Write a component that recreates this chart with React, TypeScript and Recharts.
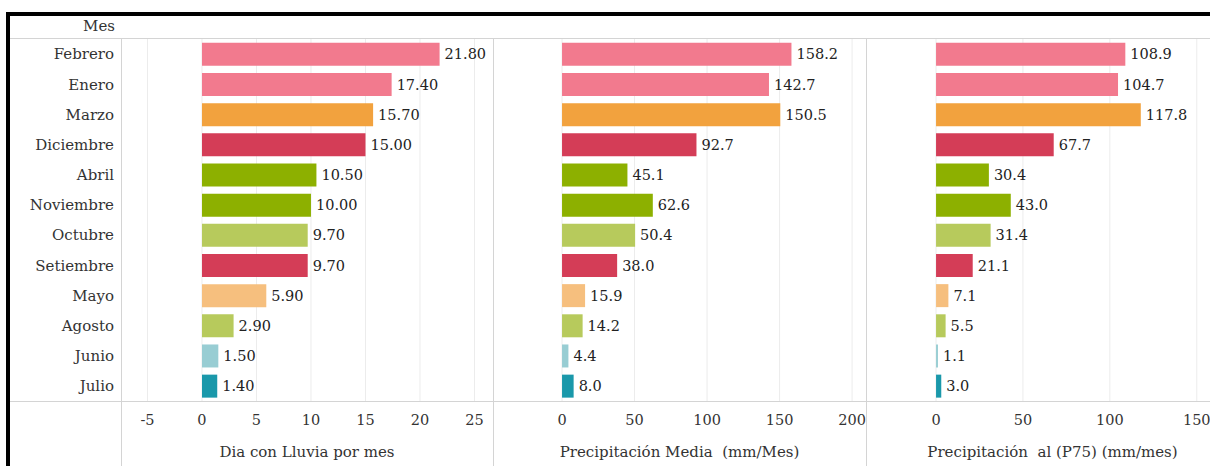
import React from "react";
import { BarChart, Bar, XAxis, YAxis, CartesianGrid, Cell, LabelList } from "recharts";

const months = ["Febrero", "Enero", "Marzo", "Diciembre", "Abril", "Noviembre", "Octubre", "Setiembre", "Mayo", "Agosto", "Junio", "Julio"];
const diasLluvia = [21.8, 17.4, 15.7, 15.0, 10.5, 10.0, 9.7, 9.7, 5.9, 2.9, 1.5, 1.4];
const precMedia = [158.2, 142.7, 150.5, 92.7, 45.1, 62.6, 50.4, 38.0, 15.9, 14.2, 4.4, 8.0];
const precP75 = [108.9, 104.7, 117.8, 67.7, 30.4, 43.0, 31.4, 21.1, 7.1, 5.5, 1.1, 3.0];
const monthColors = ["#F27A8E", "#F27A8E", "#F2A23E", "#D43D57", "#8DB000", "#8DB000", "#B7CA5C", "#D43D57", "#F6BF7E", "#B7CA5C", "#98CDD3", "#1A98AA"];

const ticks1 = [-5, 0, 5, 10, 15, 20, 25];
const ticks2 = [0, 50, 100, 150, 200];
const ticks3 = [0, 50, 100, 150];

const title1 = "Dia con Lluvia por mes";
const title2 = "Precipitación Media\u00A0 (mm/Mes)";
const title3 = "Precipitación\u00A0 al (P75) (mm/mes)";

const data = months.map((m, i) => ({
  mes: m,
  dias: diasLluvia[i],
  media: precMedia[i],
  p75: precP75[i],
  color: monthColors[i],
}));

const FONT = "'DejaVu Serif', serif";
const TXT = "#333";
const LINE = "#d4d4d4";

type PanelProps = {
  dataKey: string;
  domain: [number, number];
  ticks: number[];
  title: string;
  decimals: number;
  left: number;
  width: number;
  showLabels?: boolean;
};

function Panel({ dataKey, domain, ticks, title, decimals, left, width, showLabels }: PanelProps) {
  const yw = showLabels ? 111 : 0;
  return (
    <div style={{ position: "absolute", left, top: 39 }}>
      <BarChart
        width={width + yw}
        height={427}
        data={data}
        layout="vertical"
        margin={{ top: 0, right: 0, bottom: 0, left: 0 }}
        barCategoryGap={3.8}
      >
        <CartesianGrid horizontal={false} vertical={true} stroke="#ececec" verticalValues={ticks} />
        <XAxis
          type="number"
          domain={domain}
          ticks={ticks}
          allowDataOverflow
          axisLine={false}
          tickLine={false}
          tickMargin={8}
          height={65}
          tick={{ fill: TXT, fontSize: 14.5, fontFamily: FONT }}
          label={{ value: title, position: "insideBottom", offset: 9, fill: TXT, fontSize: 15, fontFamily: FONT }}
        />
        <YAxis
          type="category"
          dataKey="mes"
          width={yw}
          hide={!showLabels}
          axisLine={false}
          tickLine={false}
          tickMargin={1}
          interval={0}
          tick={{ fill: TXT, fontSize: 15, fontFamily: FONT }}
        />
        <Bar dataKey={dataKey} isAnimationActive={false}>
          {data.map((d, i) => (
            <Cell key={i} fill={d.color} />
          ))}
          <LabelList
            dataKey={dataKey}
            position="right"
            offset={5}
            formatter={(v: any) => Number(v).toFixed(decimals)}
            style={{ fill: "#222", fontSize: 14.5, fontFamily: FONT }}
          />
        </Bar>
      </BarChart>
    </div>
  );
}

export default function App() {
  return (
    <div style={{ position: "fixed", left: 0, top: 0, width: 1210, height: 466, overflow: "hidden", background: "#fff", fontFamily: FONT }}>
      <div style={{ position: "absolute", left: 6, top: 12, width: 1300, height: 500, borderTop: "4px solid #000", borderLeft: "4px solid #000", boxSizing: "border-box" }} />
      <div style={{ position: "absolute", left: 10, top: 17, width: 105, textAlign: "right", fontSize: 15, color: TXT }}>Mes</div>
      <div style={{ position: "absolute", left: 10, top: 38, width: 1300, height: 1, background: LINE }} />
      <div style={{ position: "absolute", left: 10, top: 401, width: 1300, height: 1, background: LINE }} />
      <Panel dataKey="dias" domain={[-7.43, 26.7]} ticks={ticks1} title={title1} decimals={2} left={10} width={372} showLabels />
      <Panel dataKey="media" domain={[-47.6, 209.6]} ticks={ticks2} title={title2} decimals={1} left={493} width={373} />
      <Panel dataKey="p75" domain={[-40.3, 174.3]} ticks={ticks3} title={title3} decimals={1} left={866} width={373} />
      <div style={{ position: "absolute", left: 121, top: 38, width: 1, height: 430, background: LINE }} />
      <div style={{ position: "absolute", left: 493, top: 38, width: 1, height: 430, background: LINE }} />
      <div style={{ position: "absolute", left: 866, top: 38, width: 1, height: 430, background: LINE }} />
    </div>
  );
}
